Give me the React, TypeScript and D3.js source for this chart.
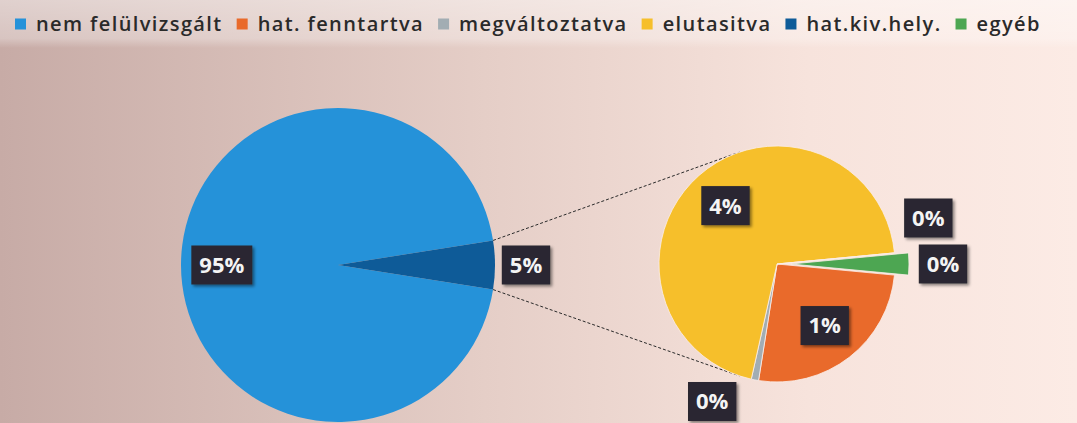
import React, { useEffect, useRef } from 'react';
import * as d3 from 'd3';

// legend categories and their colours
const categories = ['nem felülvizsgált', 'hat. fenntartva', 'megváltoztatva', 'elutasitva', 'hat.kiv.hely.', 'egyéb'];
const colors = ['#2592d9', '#e96a2b', '#a2adb3', '#f6bf2b', '#0e5b98', '#4da652'];

// primary pie: big slice + the combined slice that gets split in the second pie
const mainCategories = ['nem felülvizsgált', 'hat.kiv.hely.'];
const mainValues = [95, 5];

// secondary pie (percent of total)
const subCategories = ['hat. fenntartva', 'megváltoztatva', 'elutasitva', 'hat.kiv.hely.', 'egyéb'];
const subValues = [1.3, 0.05, 3.5, 0, 0.15];
const explodedCategory = 'egyéb';

const W = 1077;
const H = 423;

const App: React.FC = () => {
  const svgRef = useRef<SVGSVGElement>(null);

  useEffect(() => {
    if (!svgRef.current) return;
    const svg = d3.select(svgRef.current);
    svg.selectAll('*').remove();

    const color = d3.scaleOrdinal<string, string>().domain(categories).range(colors);

    const defs = svg.append('defs');
    const bg = defs.append('linearGradient').attr('id', 'bg').attr('x1', 0).attr('x2', 1).attr('y1', 0).attr('y2', 0);
    bg.append('stop').attr('offset', '0%').attr('stop-color', '#c7aba6');
    bg.append('stop').attr('offset', '45%').attr('stop-color', '#e5cec7');
    bg.append('stop').attr('offset', '75%').attr('stop-color', '#f7e3dc');
    bg.append('stop').attr('offset', '100%').attr('stop-color', '#fcebe5');
    const top = defs.append('linearGradient').attr('id', 'topband').attr('x1', 0).attr('x2', 0).attr('y1', 0).attr('y2', 1);
    top.append('stop').attr('offset', '0%').attr('stop-color', '#ffffff').attr('stop-opacity', 0.45);
    top.append('stop').attr('offset', '80%').attr('stop-color', '#ffffff').attr('stop-opacity', 0.3);
    top.append('stop').attr('offset', '100%').attr('stop-color', '#ffffff').attr('stop-opacity', 0);
    const shadow = defs.append('filter').attr('id', 'shadow').attr('x', '-20%').attr('y', '-20%').attr('width', '150%').attr('height', '150%');
    shadow.append('feDropShadow').attr('dx', 2).attr('dy', 2).attr('stdDeviation', 1.5)
      .attr('flood-color', '#000').attr('flood-opacity', 0.45);

    svg.append('rect').attr('width', W).attr('height', H).attr('fill', 'url(#bg)');
    svg.append('rect').attr('width', W).attr('height', 48).attr('fill', 'url(#topband)');

    // ---- legend
    const legend = svg.append('g').attr('font-family', '"Open Sans", sans-serif')
      .attr('font-weight', 600).attr('font-size', 20).attr('fill', '#2a2a2a');
    let lx = 15;
    categories.forEach((c) => {
      legend.append('rect').attr('x', lx).attr('y', 18.5).attr('width', 11).attr('height', 11).attr('fill', color(c));
      const t = legend.append('text').attr('x', lx + 21).attr('y', 31).attr('letter-spacing', 1.4).text(c);
      const w = (t.node() as SVGTextElement).getComputedTextLength();
      lx += 21 + w + 14;
    });

    // ---- geometry
    const main = { cx: 338, cy: 265, r: 157 };
    const sub = { cx: 777, cy: 264, r: 118 };
    const explode = 14;
    const boxH = 39;

    const mainTotal = d3.sum(mainValues);
    const otherFrac = mainValues[mainValues.length - 1] / mainTotal;
    const mainStart = Math.PI / 2 + otherFrac * Math.PI;
    const mainArcs = d3.pie<number>().sort(null).startAngle(mainStart).endAngle(mainStart + 2 * Math.PI)(mainValues);

    const subTotal = d3.sum(subValues);
    const lastFrac = subValues[subValues.length - 1] / subTotal;
    const subStart = Math.PI / 2 + lastFrac * Math.PI;
    const subArcs = d3.pie<number>().sort(null).startAngle(subStart).endAngle(subStart + 2 * Math.PI)(subValues);

    const pt = (cx: number, cy: number, r: number, a: number): [number, number] => [cx + r * Math.sin(a), cy - r * Math.cos(a)];

    // ---- connector lines
    const other = mainArcs[mainArcs.length - 1];
    const connAngle = (18.5 * Math.PI) / 180;
    const conn = [
      [pt(main.cx, main.cy, main.r, other.startAngle), pt(sub.cx, sub.cy, sub.r, -connAngle)],
      [pt(main.cx, main.cy, main.r, other.endAngle), pt(sub.cx, sub.cy, sub.r, Math.PI + connAngle)],
    ];
    svg.selectAll('.conn').data(conn).enter().append('line')
      .attr('x1', (d) => d[0][0]).attr('y1', (d) => d[0][1])
      .attr('x2', (d) => d[1][0]).attr('y2', (d) => d[1][1])
      .attr('stroke', '#2a2a2a').attr('stroke-width', 1).attr('stroke-dasharray', '3,2');

    // ---- main pie
    const mainArc = d3.arc<d3.PieArcDatum<number>>().innerRadius(0).outerRadius(main.r);
    svg.append('g').attr('transform', `translate(${main.cx},${main.cy})`)
      .selectAll('path').data(mainArcs).enter().append('path')
      .attr('d', mainArc).attr('fill', (d, i) => color(mainCategories[i]));

    // ---- secondary pie
    const subArc = d3.arc<d3.PieArcDatum<number>>().innerRadius(0).outerRadius(sub.r);
    svg.append('g').attr('transform', `translate(${sub.cx},${sub.cy})`)
      .selectAll('path').data(subArcs).enter().append('path')
      .attr('d', subArc)
      .attr('transform', (d, i) => {
        if (subCategories[i] !== explodedCategory) return null;
        const m = (d.startAngle + d.endAngle) / 2;
        return `translate(${explode * Math.sin(m)},${-explode * Math.cos(m)})`;
      })
      .attr('fill', (d, i) => color(subCategories[i]))
      .attr('stroke', '#fbeee9').attr('stroke-width', 0.8);

    // ---- labels
    type Lab = { text: string; x: number; y: number };
    const labels: Lab[] = [];
    const fmt = (v: number) => `${Math.round(v)}%`;

    mainArcs.forEach((d) => {
      const m = (d.startAngle + d.endAngle) / 2;
      const frac = d.value / mainTotal;
      const rr = frac < 0.06 ? main.r + 31 : main.r * 0.74;
      const [x, y] = pt(main.cx, main.cy, rr, m);
      labels.push({ text: fmt((d.value / mainTotal) * 100), x, y });
    });

    const outside: Lab[] = [];
    subArcs.forEach((d, i) => {
      const m = (d.startAngle + d.endAngle) / 2;
      const frac = d.value / subTotal;
      const ex = subCategories[i] === explodedCategory ? explode : 0;
      const isOut = frac < 0.06;
      const D = isOut ? sub.r + 34 + ex : sub.r * 0.66;
      let [x, y] = pt(sub.cx, sub.cy, D, m);
      const lab = { text: fmt(d.value), x, y };
      if (isOut) {
        if (y + boxH / 2 > H - 2) {
          y = H - 2 - boxH / 2;
          const dy = y - sub.cy;
          x = sub.cx + Math.sign(Math.sin(m)) * Math.sqrt(Math.max(D * D - dy * dy, 0));
          lab.x = x;
          lab.y = y;
        }
        outside.push(lab);
      }
      labels.push(lab);
    });
    // push overlapping outside labels apart (upwards)
    const right = outside.filter((l) => l.x > sub.cx).sort((a, b) => b.y - a.y);
    for (let i = 1; i < right.length; i++) {
      if (right[i - 1].y - right[i].y < boxH + 7) right[i].y = right[i - 1].y - (boxH + 7);
    }

    const lg = svg.append('g').attr('font-family', '"Open Sans", sans-serif').attr('font-weight', 700).attr('font-size', 22);
    labels.forEach((l) => {
      const g = lg.append('g').attr('transform', `translate(${l.x},${l.y})`);
      const rect = g.append('rect').attr('fill', '#2c2830').attr('filter', 'url(#shadow)');
      const t = g.append('text').attr('text-anchor', 'middle').attr('dy', '0.36em').attr('fill', '#f4f4f4').text(l.text);
      const w = (t.node() as SVGTextElement).getComputedTextLength() + 16;
      rect.attr('x', -w / 2).attr('y', -boxH / 2).attr('width', w).attr('height', boxH);
    });
  }, []);

  return (
    <svg
      ref={svgRef}
      width={W}
      height={H}
      style={{ position: 'fixed', left: 0, top: 0, display: 'block' }}
    />
  );
};

export default App;
